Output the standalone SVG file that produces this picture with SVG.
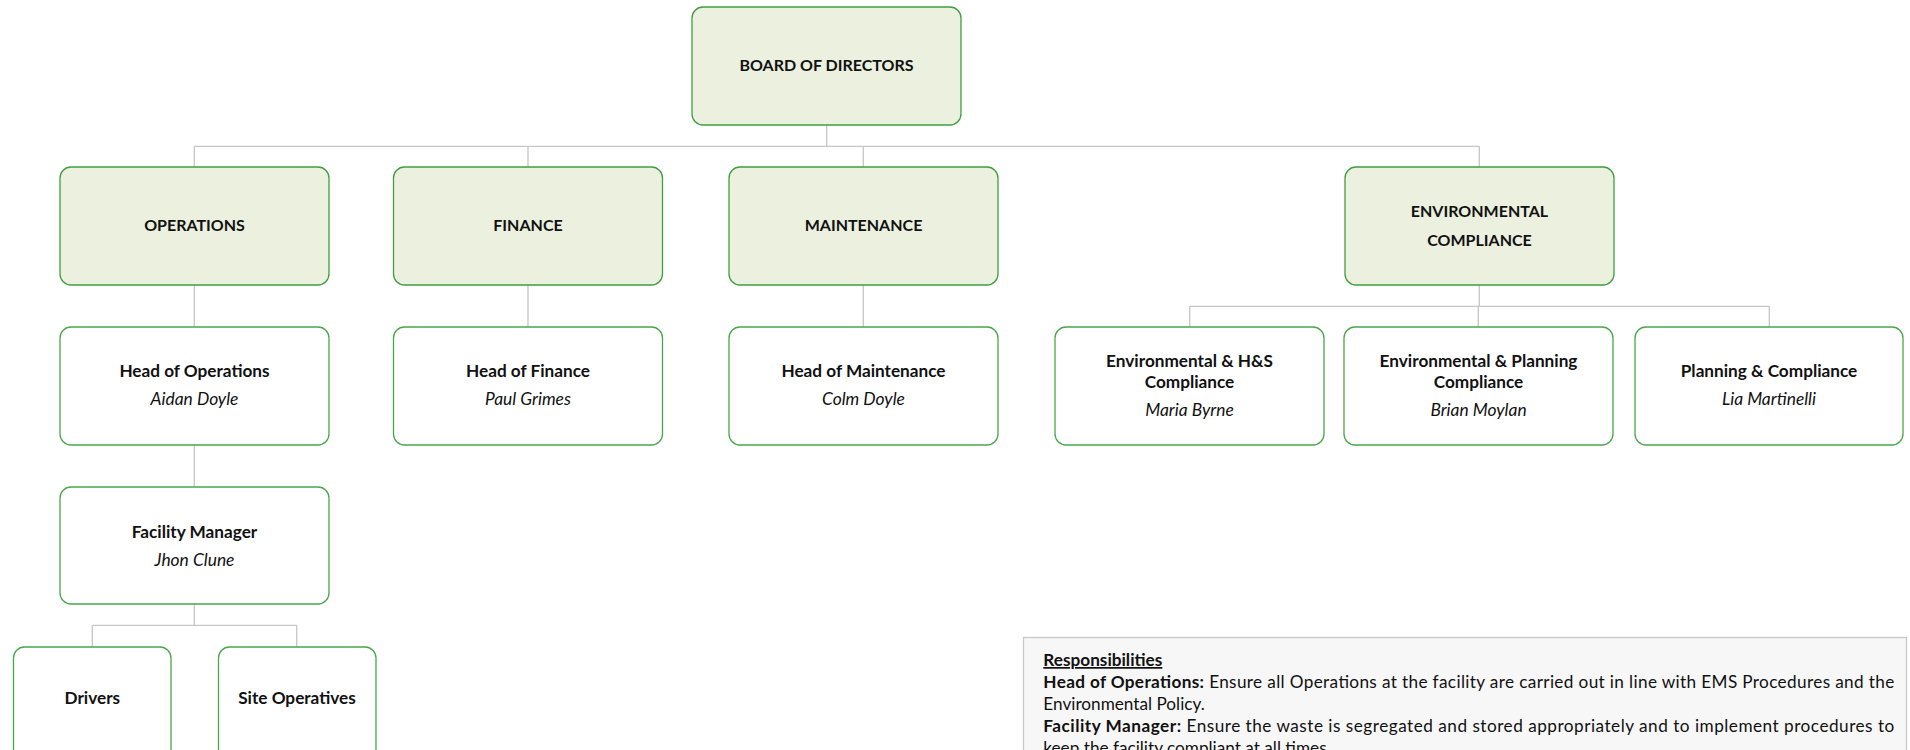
<svg xmlns="http://www.w3.org/2000/svg" width="1910" height="750" viewBox="0 0 1910 750">
<style>
.top{fill:#ebf0df;stroke:#3f9e3f;stroke-width:1.3}
.box{fill:#ffffff;stroke:#4aa64a;stroke-width:1.3}
.t{font-family:Lato,"Open Sans",sans-serif;font-weight:bold;font-size:17.2px;fill:#111;text-anchor:middle}
.c{font-size:16px}
.n{font-family:Lato,"Open Sans",sans-serif;font-style:italic;font-size:17.4px;fill:#111;text-anchor:middle}
.conn{fill:none;stroke:#c6c6c6;stroke-width:1.3}
.resp{fill:#f7f7f7;stroke:#c8c8c8;stroke-width:1.3}
.r{font-family:Lato,"Open Sans",sans-serif;font-size:17.2px;fill:#111}
.rb{font-weight:bold}
</style>
<g id="connectors">
<path class="conn" d="M826.7,125 V146.3 M194.3,146.3 H1479.3 M194.3,146.3 V167 M528,146.3 V167 M863.3,146.3 V167 M1479.3,146.3 V167"/>
<path class="conn" d="M194.3,285 V327 M528,285 V327 M863.3,285 V327 M194.3,445 V487"/>
<path class="conn" d="M1479.3,285 V306.3 M1189.7,306.3 H1769.3 M1189.7,306.3 V327 M1478.3,306.3 V327 M1769.3,306.3 V327"/>
<path class="conn" d="M194.3,604 V625.3 M92.3,625.3 H296.7 M92.3,625.3 V647 M296.7,625.3 V647"/>
</g>
<g id="board"><rect class="top" x="692" y="7" width="269" height="118" rx="11"/><text class="t c" x="826.5" y="71">BOARD OF DIRECTORS</text></g>
<g id="operations"><rect class="top" x="60" y="167" width="269" height="118" rx="11"/><text class="t c" x="194.5" y="231">OPERATIONS</text></g>
<g id="finance"><rect class="top" x="393.5" y="167" width="269" height="118" rx="11"/><text class="t c" x="528" y="231">FINANCE</text></g>
<g id="maintenance"><rect class="top" x="729" y="167" width="269" height="118" rx="11"/><text class="t c" x="863.5" y="231">MAINTENANCE</text></g>
<g id="environmental-compliance"><rect class="top" x="1345" y="167" width="269" height="118" rx="11"/><text class="t c" x="1479.5" y="217">ENVIRONMENTAL</text><text class="t c" x="1479.5" y="246">COMPLIANCE</text></g>
<g id="head-operations"><rect class="box" x="60" y="327" width="269" height="118" rx="11"/><text class="t" x="194.5" y="377">Head of Operations</text><text class="n" x="194.5" y="405">Aidan Doyle</text></g>
<g id="head-finance"><rect class="box" x="393.5" y="327" width="269" height="118" rx="11"/><text class="t" x="528" y="377">Head of Finance</text><text class="n" x="528" y="405">Paul Grimes</text></g>
<g id="head-maintenance"><rect class="box" x="729" y="327" width="269" height="118" rx="11"/><text class="t" x="863.5" y="377">Head of Maintenance</text><text class="n" x="863.5" y="405">Colm Doyle</text></g>
<g id="env-hs"><rect class="box" x="1055" y="327" width="269" height="118" rx="11"/><text class="t" x="1189.5" y="367">Environmental &amp; H&amp;S</text><text class="t" x="1189.5" y="388">Compliance</text><text class="n" x="1189.5" y="416">Maria Byrne</text></g>
<g id="env-planning"><rect class="box" x="1344" y="327" width="269" height="118" rx="11"/><text class="t" x="1478.5" y="367">Environmental &amp; Planning</text><text class="t" x="1478.5" y="388">Compliance</text><text class="n" x="1478.5" y="416">Brian Moylan</text></g>
<g id="planning-compliance"><rect class="box" x="1635" y="327" width="268" height="118" rx="11"/><text class="t" x="1769" y="377">Planning &amp; Compliance</text><text class="n" x="1769" y="405">Lia Martinelli</text></g>
<g id="facility-manager"><rect class="box" x="60" y="487" width="269" height="117" rx="11"/><text class="t" x="194.5" y="537.5">Facility Manager</text><text class="n" x="194.5" y="565.5">Jhon Clune</text></g>
<g id="drivers"><rect class="box" x="13.5" y="647" width="157.5" height="118" rx="11"/><text class="t" x="92.3" y="704">Drivers</text></g>
<g id="site-operatives"><rect class="box" x="218.5" y="647" width="157.5" height="118" rx="11"/><text class="t" x="297" y="704">Site Operatives</text></g>
<g id="responsibilities">
<rect class="resp" x="1023.5" y="637.5" width="883" height="130"/>
<text class="r rb" x="1043.3" y="666" text-decoration="underline">Responsibilities</text>
<text class="r" x="1043.3" y="688" textLength="851" lengthAdjust="spacing"><tspan class="rb">Head of Operations:</tspan> Ensure all Operations at the facility are carried out in line with EMS Procedures and the</text>
<text class="r" x="1043.3" y="710">Environmental Policy.</text>
<text class="r" x="1043.3" y="732" textLength="851" lengthAdjust="spacing"><tspan class="rb">Facility Manager:</tspan> Ensure the waste is segregated and stored appropriately and to implement procedures to</text>
<text class="r" x="1043.3" y="754">keep the facility compliant at all times.</text>
</g>
</svg>
